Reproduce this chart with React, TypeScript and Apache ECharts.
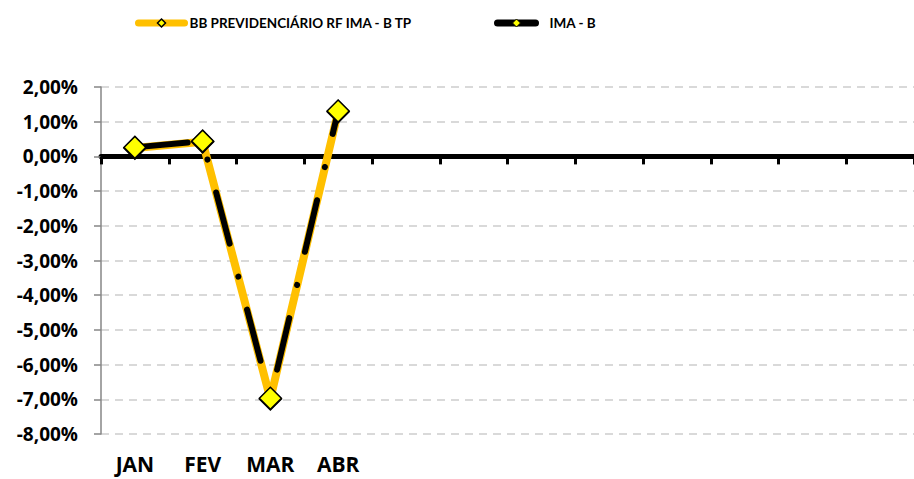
import React, { useEffect, useRef } from "react";
import * as echarts from "echarts";

const months = ["JAN", "FEV", "MAR", "ABR", "", "", "", "", "", "", "", ""];
const bbPrevValues = [0.24, 0.42, -6.99, 1.29];
const imaBValues = [0.26, 0.44, -6.97, 1.31];
const seriesNames = ["BB PREVIDENCIÁRIO RF IMA - B TP", "IMA - B"];
const yMin = -8;
const yMax = 2;
const yInterval = 1;

const FONT = "Open Sans";
const LEGEND_FONT = "Lato";

export default function App() {
  const ref = useRef<HTMLDivElement>(null);

  useEffect(() => {
    if (!ref.current) return;
    const chart = echarts.init(ref.current, undefined, { renderer: "svg" });
    const fmt = (v: number) => v.toFixed(2).replace(".", ",") + "%";
    const marker = {
      color: "#FFFF00",
      borderColor: "#000000",
      borderWidth: 1.5,
    };
    const legendText = { fontFamily: LEGEND_FONT, fontWeight: "bold", fontSize: 13.5, color: "#000" };
    chart.setOption({
      animation: false,
      backgroundColor: "#ffffff",
      textStyle: { fontFamily: FONT },
      grid: { left: 101, top: 87, bottom: 45, width: 816, containLabel: false },
      legend: [
        {
          left: 130,
          top: 11,
          itemWidth: 46,
          itemHeight: 10,
          selectedMode: false,
          textStyle: legendText,
          data: [
            {
              name: seriesNames[0],
              itemStyle: { color: "#FFFF00", borderColor: "#000", borderWidth: 1.5 },
              lineStyle: { color: "#FFC000", width: 7, type: "solid", cap: "round" },
            },
          ],
        },
        {
          left: 489,
          top: 11,
          itemWidth: 38,
          itemHeight: 10,
          selectedMode: false,
          textStyle: { ...legendText, padding: [0, 0, 0, 9] },
          data: [
            {
              name: seriesNames[1],
              itemStyle: { color: "#FFFF00", borderColor: "#000", borderWidth: 1 },
              lineStyle: { color: "#000000", width: 7, type: "solid", cap: "round" },
            },
          ],
        },
      ],
      xAxis: [
        {
          type: "category",
          data: months,
          position: "bottom",
          boundaryGap: true,
          axisLine: { show: false, onZero: false },
          axisTick: { show: false },
          splitLine: { show: false },
          axisLabel: {
            interval: 0,
            margin: 19,
            color: "#000",
            fontFamily: FONT,
            fontWeight: "bold",
            fontSize: 21,
            lineHeight: 21,
          },
        },
        {
          type: "category",
          data: months,
          position: "top",
          boundaryGap: true,
          axisLine: { show: true, onZero: true, lineStyle: { color: "#000", width: 5 } },
          axisTick: { show: true, inside: true, length: 8, interval: 0, lineStyle: { color: "#000", width: 3 } },
          axisLabel: { show: false },
          splitLine: { show: false },
        },
      ],
      yAxis: {
        type: "value",
        min: yMin,
        max: yMax,
        interval: yInterval,
        axisLine: { show: true, onZero: false, lineStyle: { color: "#868686", width: 1.5 } },
        axisTick: { show: true, length: 7, lineStyle: { color: "#868686", width: 1.5 } },
        splitLine: { show: true, lineStyle: { color: "#D9D9D9", width: 2, type: [8, 6] } },
        axisLabel: {
          margin: 23,
          color: "#000",
          fontFamily: FONT,
          fontWeight: "bold",
          fontSize: 19,
          formatter: fmt,
        },
      },
      series: [
        {
          name: seriesNames[0],
          type: "line",
          xAxisIndex: 0,
          data: bbPrevValues,
          symbol: "diamond",
          symbolSize: 22,
          itemStyle: marker,
          lineStyle: { color: "#FFC000", width: 8, cap: "round", join: "round" },
          z: 2,
        },
        {
          name: seriesNames[1],
          type: "line",
          xAxisIndex: 0,
          data: imaBValues,
          symbol: "diamond",
          symbolSize: 22,
          itemStyle: marker,
          lineStyle: { color: "#000000", width: 6, type: [53, 34, 0.1, 34], cap: "round", join: "round" },
          z: 3,
        },
      ],
    });
    return () => chart.dispose();
  }, []);

  return <div ref={ref} style={{ width: 914, height: 479, position: "absolute", left: 0, top: 0 }} />;
}
